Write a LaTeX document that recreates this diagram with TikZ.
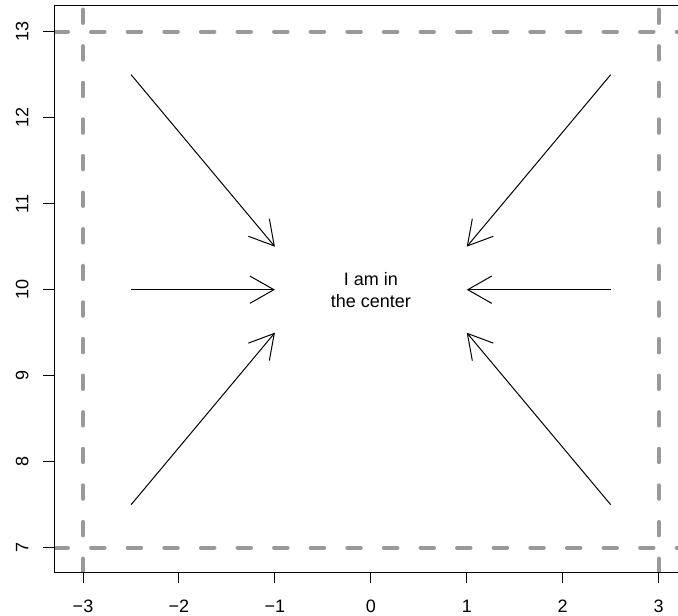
\documentclass[tikz,border=0pt]{standalone}
\usepackage{fontspec}
\setmainfont{Liberation Sans}
\usetikzlibrary{arrows.meta}
\definecolor{dashgray}{RGB}{153,153,153}
\begin{document}
\begin{tikzpicture}[x=0.75pt,y=-0.75pt,
  refline/.style={dashgray, line width=3pt, line cap=round, dash pattern=on 10.1pt off 17.35pt},
  arrowline/.style={black, line width=0.75pt, -{Straight Barb[length=18pt,width=20.5pt,line join=miter]}},
  framel/.style={black, line width=0.75pt},
  tickl/.style={black, line width=0.75pt},
  lab/.style={font=\fontsize{13.5}{16.2}\selectfont, inner sep=0pt},
  centertext/.style={font=\fontsize{13.5}{16.2}\selectfont, align=center, inner sep=0pt}]
\useasboundingbox (0,0) rectangle (678,616);
% reference lines
\begin{scope}
\clip (54.5,6) rectangle (678,572);
\coordinate (hl1) at (54.5,31.7); \coordinate (hr1) at (700,31.7);
\coordinate (hl2) at (54.5,547.7); \coordinate (hr2) at (700,547.7);
\coordinate (vb1) at (83,572); \coordinate (vt1) at (83,-10);
\coordinate (vb2) at (658.65,572); \coordinate (vt2) at (658.65,-10);
\draw[refline] (hl1) -- (hr1);
\draw[refline] (hl2) -- (hr2);
\draw[refline] (vb1) -- (vt1);
\draw[refline] (vb2) -- (vt2);
\end{scope}
% frame
\coordinate (bl) at (54.5,572); \coordinate (tl) at (54.5,6);
\coordinate (br) at (679,572); \coordinate (tr) at (679,6);
\draw[framel] (tr) -- (tl) -- (bl) -- (br);
% x axis
\foreach \v/\p in {−3/83,−2/178.9,−1/274.9,0/370.8,1/466.75,2/562.7,3/658.65}{
  \draw[tickl] (\p,572) -- (\p,583);
  \node[lab, anchor=base] at (\p,612.7) {\v};
}
% y axis
\foreach \v/\p in {13/31.7,12/117.7,11/203.7,10/289.7,9/375.7,8/461.7,7/547.7}{
  \draw[tickl] (54.5,\p) -- (43,\p);
  \node[lab, anchor=base, rotate=90] at (28.3,\p) {\v};
}
% center text
\node[centertext] (c) at (370.8,290) {I am in\\the center};
% arrows
\coordinate (s1) at (131.1,74.7);  \coordinate (e1) at (274.9,246.7);
\coordinate (s2) at (131.1,289.7); \coordinate (e2) at (274.9,289.7);
\coordinate (s3) at (131.1,504.7); \coordinate (e3) at (274.9,332.7);
\coordinate (s4) at (610.7,74.7);  \coordinate (e4) at (466.75,246.7);
\coordinate (s5) at (610.7,289.7); \coordinate (e5) at (466.75,289.7);
\coordinate (s6) at (610.7,504.7); \coordinate (e6) at (466.75,332.7);
\foreach \i in {1,...,6}{\draw[arrowline] (s\i) -- (e\i);}
\end{tikzpicture}
\end{document}
